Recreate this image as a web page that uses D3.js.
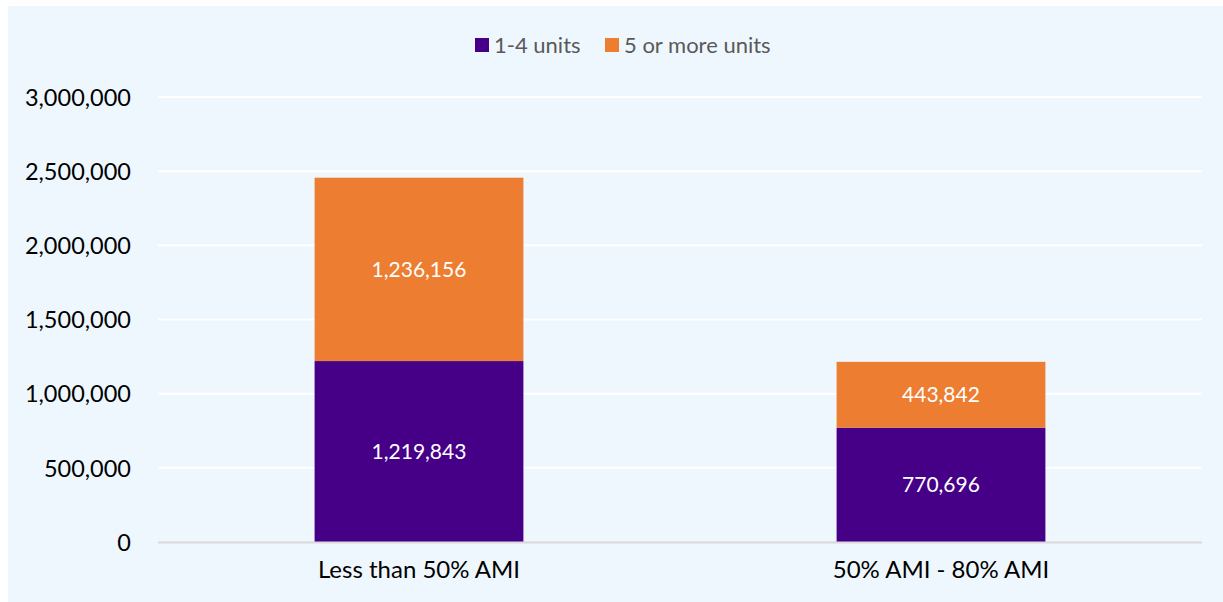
<!DOCTYPE html>
<html>
<head>
<meta charset="utf-8">
<script src="https://cdn.jsdelivr.net/npm/d3@7"></script>
<style>
  html, body { margin: 0; padding: 0; background: #ffffff; }
  svg { display: block; }
  text { font-family: Lato, "Open Sans", sans-serif; }
</style>
</head>
<body>
<svg id="chart" width="1223" height="602"></svg>
<script>
const categories = ["Less than 50% AMI", "50% AMI - 80% AMI"];
const seriesNames = ["1-4 units", "5 or more units"];
const units1to4 = [1219843, 770696];
const units5plus = [1236156, 443842];
const yTicks = [0, 500000, 1000000, 1500000, 2000000, 2500000, 3000000];
const colors = ["#460088", "#ED7D31"];

const svg = d3.select("#chart");
const W = 1223, H = 602;

// panel background
svg.append("rect").attr("x", 8).attr("y", 6).attr("width", W - 8).attr("height", H - 6)
  .attr("fill", "#EFF7FE");

const margin = { left: 158, right: 21, top: 97, bottom: 60 };
const plotW = W - margin.left - margin.right;
const y = d3.scaleLinear().domain([0, 3000000]).range([542, 97]);
const x = d3.scaleBand().domain(categories).range([margin.left, margin.left + plotW]).paddingInner(0).paddingOuter(0);
const barW = x.bandwidth() * 0.4;

// gridlines
svg.append("g").selectAll("line").data(yTicks.filter(d => d > 0)).join("line")
  .attr("x1", margin.left).attr("x2", margin.left + plotW)
  .attr("y1", d => y(d)).attr("y2", d => y(d))
  .attr("stroke", "#ffffff").attr("stroke-width", 2);

// y axis labels
const fmt = d3.format(",");
const yAxis = d3.axisLeft(y).tickValues(yTicks).tickFormat(fmt).tickSize(0).tickPadding(0);
const yg = svg.append("g").attr("transform", "translate(131,0)").call(yAxis);
yg.select(".domain").remove();
yg.selectAll("text").attr("font-size", 23.5).attr("fill", "#000000")
  .attr("font-family", "Lato, 'Open Sans', sans-serif").attr("dy", "0.35em");

// stacked data
const rows = categories.map((c, i) => ({ cat: c, a: units1to4[i], b: units5plus[i] }));
const stack = d3.stack().keys(["a", "b"])(rows);

const layers = svg.append("g").selectAll("g").data(stack).join("g")
  .attr("fill", (d, i) => colors[i]);
layers.selectAll("rect").data(d => d).join("rect")
  .attr("x", d => x(d.data.cat) + (x.bandwidth() - barW) / 2)
  .attr("width", barW)
  .attr("y", d => y(d[1]))
  .attr("height", d => y(d[0]) - y(d[1]));

// data labels
const labels = svg.append("g").selectAll("g").data(stack).join("g");
labels.selectAll("text").data(d => d).join("text")
  .attr("x", d => x(d.data.cat) + x.bandwidth() / 2)
  .attr("y", d => (y(d[0]) + y(d[1])) / 2)
  .attr("dy", "0.35em")
  .attr("text-anchor", "middle")
  .attr("fill", "#ffffff")
  .attr("font-size", 21)
  .text(d => fmt(d[1] - d[0]));

// x axis line
svg.append("line").attr("x1", margin.left).attr("x2", margin.left + plotW)
  .attr("y1", y(0) + 0.5).attr("y2", y(0) + 0.5)
  .attr("stroke", "#D9D9D9").attr("stroke-width", 2);

// x axis labels
const xAxis = d3.axisBottom(x).tickSize(0).tickPadding(0);
const xg = svg.append("g").attr("transform", `translate(0,${y(0)})`).call(xAxis);
xg.select(".domain").remove();
xg.selectAll("text").attr("font-size", 24).attr("fill", "#000000")
  .attr("font-family", "Lato, 'Open Sans', sans-serif")
  .attr("dy", null).attr("y", 36);

// legend
const legendItems = [
  { name: seriesNames[0], color: colors[0], sx: 475, tx: 494 },
  { name: seriesNames[1], color: colors[1], sx: 605, tx: 624 }
];
const lg = svg.append("g");
lg.selectAll("rect").data(legendItems).join("rect")
  .attr("x", d => d.sx).attr("y", 38).attr("width", 14).attr("height", 14)
  .attr("fill", d => d.color);
lg.selectAll("text").data(legendItems).join("text")
  .attr("x", d => d.tx).attr("y", 45).attr("dy", "0.35em")
  .attr("font-size", 22).attr("fill", "#595959")
  .text(d => d.name);
</script>
</body>
</html>
